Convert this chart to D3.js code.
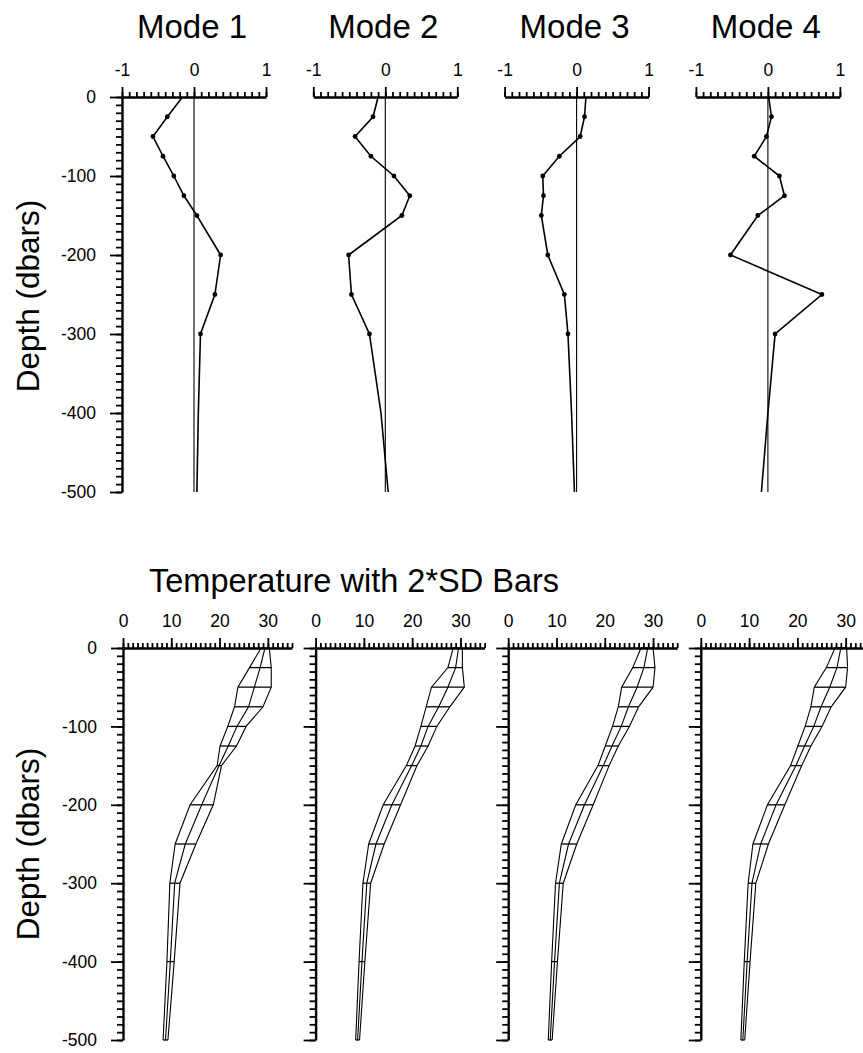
<!DOCTYPE html>
<html>
<head>
<meta charset="utf-8">
<script src="https://cdn.jsdelivr.net/npm/d3@7"></script>
<style>
  body { margin: 0; background: #fff; }
  text { font-family: "Liberation Sans", Arial, sans-serif; fill: #000; }
</style>
</head>
<body>
<div id="chart"></div>
<script>
// depths (dbars, positive down) shared by every profile
const depths = [0, 25, 50, 75, 100, 125, 150, 200, 250, 300, 400, 500];
const dotDepths = [25, 50, 75, 100, 125, 150, 200, 250, 300];

// top row: mode shapes
const modeTitles = ["Mode 1", "Mode 2", "Mode 3", "Mode 4"];
const mode1 = [-0.16, -0.37, -0.57, -0.43, -0.28, -0.14, 0.04, 0.37, 0.29, 0.09, 0.06, 0.04];
const mode2 = [-0.10, -0.17, -0.42, -0.20, 0.12, 0.34, 0.23, -0.51, -0.47, -0.22, -0.06, 0.04];
const mode3 = [0.13, 0.11, 0.05, -0.24, -0.47, -0.46, -0.49, -0.40, -0.17, -0.12, -0.07, -0.03];
const mode4 = [0.01, 0.05, -0.02, -0.19, 0.16, 0.23, -0.14, -0.52, 0.75, 0.10, 0.00, -0.09];
const modeTicks = [-1, 0, 1];
const modeTickLabels = ["-1", "0", "1"];

// bottom row: temperature, low / middle / high lines of the 2*SD mesh
const lo1  = [28.6, 26.2, 23.8, 23.1, 21.7, 20.1, 19.5, 13.9, 10.8, 9.7, 9.1, 8.3];
const mid1 = [29.4, 28.4, 27.2, 26.0, 23.6, 21.8, 19.9, 16.3, 12.9, 10.7, 9.8, 8.8];
const hi1  = [30.3, 30.7, 30.7, 29.0, 25.5, 23.5, 20.4, 18.7, 15.1, 11.8, 10.6, 9.3];
const lo2  = [28.5, 27.4, 24.0, 22.9, 21.8, 20.6, 18.8, 14.0, 11.0, 9.8, 9.0, 8.3];
const mid2 = [29.6, 29.0, 27.4, 25.5, 23.3, 21.8, 19.9, 15.8, 12.5, 10.6, 9.6, 8.7];
const hi2  = [30.4, 30.4, 30.8, 27.8, 25.1, 23.3, 21.0, 17.6, 14.2, 11.4, 10.2, 9.1];
const lo3  = [27.5, 25.8, 23.5, 22.8, 21.6, 20.1, 18.6, 14.0, 11.0, 9.8, 9.0, 8.3];
const mid3 = [28.9, 28.1, 26.7, 24.9, 23.4, 21.5, 19.7, 15.8, 12.5, 10.6, 9.6, 8.7];
const hi3  = [30.0, 30.4, 30.0, 27.0, 25.1, 22.8, 20.9, 17.6, 14.2, 11.4, 10.2, 9.1];
const lo4  = [27.8, 26.0, 23.5, 22.8, 21.6, 20.1, 18.6, 13.8, 10.8, 9.8, 9.0, 8.3];
const mid4 = [29.0, 28.2, 26.7, 24.9, 23.4, 21.5, 19.7, 15.6, 12.4, 10.6, 9.6, 8.7];
const hi4  = [30.2, 30.4, 30.0, 27.0, 25.1, 22.8, 20.9, 17.4, 14.0, 11.4, 10.2, 9.1];
const tempTicks = [0, 10, 20, 30];

const depthTicks = [0, 100, 200, 300, 400, 500];
const depthLabels = ["0", "-100", "-200", "-300", "-400", "-500"];

const modes = [mode1, mode2, mode3, mode4];
const temps = [[lo1, mid1, hi1], [lo2, mid2, hi2], [lo3, mid3, hi3], [lo4, mid4, hi4]];

const svg = d3.select("#chart").append("svg")
  .attr("width", 863)
  .attr("height", 1053);

// layout
const topRow = {x0: 122, step: 191.3, width: 144, y0: 97, y1: 492};
const botRow = {x0: 123, step: 192.6, width: 169, y0: 648, y1: 1040};
const tickFont = 17.5;

function styleAxis(g) {
  g.selectAll("path.domain").attr("stroke", "#000").attr("stroke-width", 2.4);
  g.selectAll(".tick line").attr("stroke", "#000").attr("stroke-width", 1.8);
  g.selectAll("text").style("font-size", tickFont + "px").attr("fill", "#000")
    .style("font-family", "Liberation Sans, Arial, sans-serif");
}

function depthAxis(g, y, showLabels) {
  var minor = g.append("g")
    .call(d3.axisLeft(y).tickValues(d3.range(0, 501, 10)).tickSize(6).tickSizeOuter(0).tickFormat(""));
  styleAxis(minor);
  var major = g.append("g")
    .call(d3.axisLeft(y).tickValues(depthTicks).tickSize(12).tickSizeOuter(0).tickPadding(14)
      .tickFormat(function(d, i) { return showLabels ? depthLabels[i] : ""; }));
  styleAxis(major);
  major.select("path.domain").remove();
}

// ---------- top row: mode shapes ----------
modes.forEach(function(vals, i) {
  var g = svg.append("g").attr("transform", "translate(" + (topRow.x0 + i * topRow.step) + ",0)");
  var x = d3.scaleLinear().domain([-1, 1]).range([0, topRow.width]);
  var y = d3.scaleLinear().domain([0, 500]).range([topRow.y0, topRow.y1]);

  if (i == 0) depthAxis(g, y, true);

  var minor = g.append("g").attr("transform", "translate(0," + topRow.y0 + ")")
    .call(d3.axisTop(x).tickValues(d3.range(-10, 11).map(function(v) { return v / 10; }))
      .tickSize(5).tickSizeOuter(0).tickFormat(""));
  styleAxis(minor);
  var major = g.append("g").attr("transform", "translate(0," + topRow.y0 + ")")
    .call(d3.axisTop(x).tickValues(modeTicks).tickSize(10).tickSizeOuter(0).tickPadding(11)
      .tickFormat(function(d, k) { return modeTickLabels[k]; }));
  styleAxis(major);
  major.select("path.domain").remove();

  // zero line
  g.append("line")
    .attr("x1", x(0)).attr("x2", x(0))
    .attr("y1", y(0)).attr("y2", y(500))
    .attr("stroke", "#000").attr("stroke-width", 1.1);

  var pts = depths.map(function(d, k) { return {depth: d, v: vals[k]}; });
  var line = d3.line().x(function(d) { return x(d.v); }).y(function(d) { return y(d.depth); });
  g.append("path").datum(pts)
    .attr("d", line)
    .attr("fill", "none").attr("stroke", "#000").attr("stroke-width", 1.6);

  g.selectAll("circle").data(pts.filter(function(d) { return dotDepths.indexOf(d.depth) >= 0; }))
    .enter().append("circle")
      .attr("cx", function(d) { return x(d.v); })
      .attr("cy", function(d) { return y(d.depth); })
      .attr("r", 2.4)
      .attr("fill", "#000");

  g.append("text")
    .attr("x", x(0) - 2).attr("y", 38)
    .attr("text-anchor", "middle")
    .style("font-size", "33px")
    .text(modeTitles[i]);
});

// ---------- bottom row: temperature with 2*SD bars ----------
temps.forEach(function(set, i) {
  var g = svg.append("g").attr("transform", "translate(" + (botRow.x0 + i * botRow.step) + ",0)");
  var x = d3.scaleLinear().domain([0, 35]).range([0, botRow.width]);
  var y = d3.scaleLinear().domain([0, 500]).range([botRow.y0, botRow.y1]);

  depthAxis(g, y, i == 0);

  var minor = g.append("g").attr("transform", "translate(0," + botRow.y0 + ")")
    .call(d3.axisTop(x).tickValues(d3.range(0, 36)).tickSize(5).tickSizeOuter(0).tickFormat(""));
  styleAxis(minor);
  var major = g.append("g").attr("transform", "translate(0," + botRow.y0 + ")")
    .call(d3.axisTop(x).tickValues(tempTicks).tickSize(10).tickSizeOuter(0).tickPadding(11)
      .tickFormat(d3.format("d")));
  styleAxis(major);
  major.select("path.domain").remove();

  var line = d3.line().x(function(d) { return x(d.t); }).y(function(d) { return y(d.depth); });
  set.forEach(function(arr) {
    var pts = depths.map(function(d, k) { return {depth: d, t: arr[k]}; });
    g.append("path").datum(pts)
      .attr("d", line)
      .attr("fill", "none").attr("stroke", "#000").attr("stroke-width", 1.1);
  });

  // horizontal bars at each depth
  var bars = depths.map(function(d, k) { return {depth: d, a: set[0][k], b: set[2][k]}; });
  g.selectAll("line.bar").data(bars).enter().append("line")
    .attr("class", "bar")
    .attr("x1", function(d) { return x(d.a); })
    .attr("x2", function(d) { return x(d.b); })
    .attr("y1", function(d) { return y(d.depth); })
    .attr("y2", function(d) { return y(d.depth); })
    .attr("stroke", "#000").attr("stroke-width", 1.3);
});

svg.append("text")
  .attr("x", 149).attr("y", 592)
  .style("font-size", "32.5px")
  .text("Temperature with 2*SD Bars");

[296, 844].forEach(function(cy) {
  svg.append("text")
    .attr("transform", "translate(39," + cy + ") rotate(-90)")
    .attr("text-anchor", "middle")
    .style("font-size", "31.5px")
    .text("Depth (dbars)");
});
</script>
</body>
</html>
